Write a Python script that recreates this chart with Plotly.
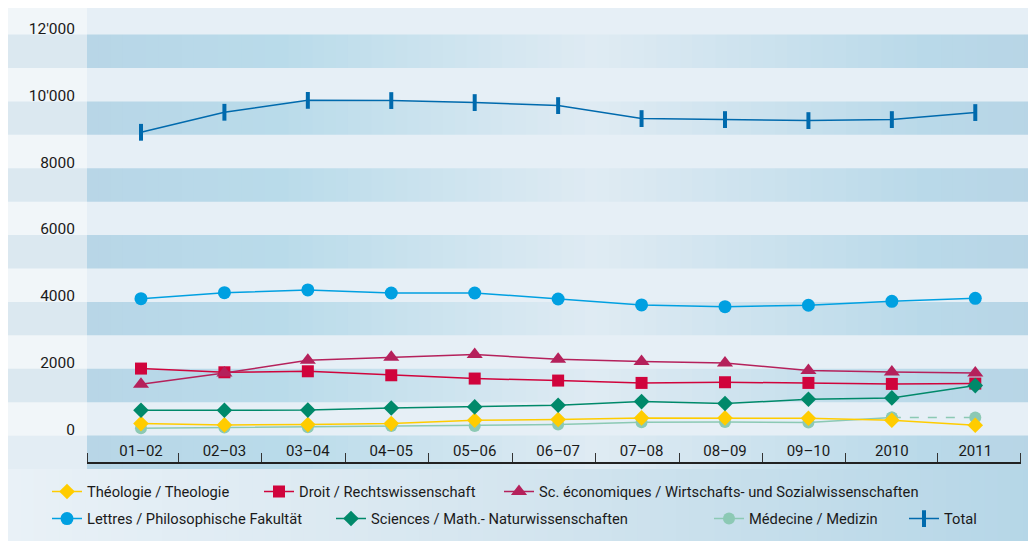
import plotly.graph_objects as go

# Data (students per faculty)
years = ["01–02", "02–03", "03–04", "04–05", "05–06", "06–07",
         "07–08", "08–09", "09–10", "2010", "2011"]

theologie = [359, 319, 329, 359, 458, 479, 529, 529, 518, 458, 309]
droit = [2005, 1894, 1924, 1805, 1706, 1646, 1576, 1596, 1576, 1546, 1556]
eco = [1536, 1875, 2253, 2343, 2424, 2283, 2214, 2175, 1945, 1906, 1875]
lettres = [4096, 4276, 4357, 4267, 4267, 4087, 3908, 3857, 3899, 4018, 4108]
sciences = [758, 758, 762, 827, 858, 908, 1017, 958, 1087, 1127, 1496]
medecine = [219, 239, 249, 289, 289, 329, 399, 409, 389, 539, 539]
total = [9075, 9674, 10030, 10024, 9964, 9874, 9485, 9455, 9425, 9455, 9665]

y_ticks = [0, 2000, 4000, 6000, 8000, 10000, 12000]
y_labels = ["0", "2000", "4000", "6000", "8000", "10'000", "12'000"]

names = {
    "theo": "Théologie / Theologie",
    "droit": "Droit / Rechtswissenschaft",
    "eco": "Sc. économiques / Wirtschafts- und Sozialwissenschaften",
    "lettres": "Lettres / Philosophische Fakultät",
    "sciences": "Sciences / Math.- Naturwissenschaften",
    "med": "Médecine / Medizin",
    "total": "Total",
}

# the page body has an 8px margin, so the figure starts at page (8, 8)
OFF = 8
W, H = 1036 - OFF, 541 - OFF
ML, MR, MT, MB = 87 - OFF, 15, 0, 72
PW = W - ML - MR
PH = H - MT - MB
Y0, Y1 = -1000, 12794


def px_x(px):
    # page x pixel -> paper x
    return (px - 87) / PW


def px_y(py):
    # page y pixel -> paper y
    return (469 - py) / PH


def hex2rgb(h):
    h = h.lstrip("#")
    return [int(h[i:i + 2], 16) for i in (0, 2, 4)]


def grad(stops, px):
    for (a, ca), (b, cb) in zip(stops, stops[1:]):
        if a <= px <= b:
            t = (px - a) / (b - a)
            c1, c2 = hex2rgb(ca), hex2rgb(cb)
            return "rgb(%d,%d,%d)" % tuple(round(u + (v - u) * t) for u, v in zip(c1, c2))
    return stops[-1][1]


band_stops = [(87, "#b8d6e7"), (280, "#b9dbea"), (595, "#dfebf3"),
              (925, "#b9d9e9"), (1036, "#b8d5e6")]
legend_stops = [(8, "#e9f1f7"), (520, "#d4e5ef"), (1036, "#b5d6e7")]

shapes = []
# dark band gradient (plot area)
n = 80
for i in range(n):
    a = 87 + (1036 - 87) * i / n
    b = 87 + (1036 - 87) * (i + 1) / n
    shapes.append(dict(type="rect", xref="paper", yref="y", x0=px_x(a), x1=px_x(b) + 0.001,
                       y0=Y0, y1=Y1, fillcolor=grad(band_stops, (a + b) / 2),
                       line_width=0, layer="below"))
# light bands
for k in range(0, 13000, 2000):
    shapes.append(dict(type="rect", xref="paper", yref="y", x0=0, x1=px_x(1036),
                       y0=k, y1=min(k + 1000, Y1), fillcolor="#e6eff6",
                       line_width=0, layer="below"))
# left label column
shapes.append(dict(type="rect", xref="paper", yref="y", x0=px_x(8), x1=0,
                   y0=0, y1=Y1, fillcolor="#dbe8f0", line_width=0, layer="below"))
shapes.append(dict(type="rect", xref="paper", yref="y", x0=px_x(8), x1=0,
                   y0=Y0, y1=0, fillcolor="#e3edf4", line_width=0, layer="below"))
for k in range(0, 13000, 2000):
    shapes.append(dict(type="rect", xref="paper", yref="y", x0=px_x(8), x1=0,
                       y0=k, y1=min(k + 1000, Y1), fillcolor="#f1f6f9",
                       line_width=0, layer="below"))
# legend background gradient
for i in range(n):
    a = 8 + (1036 - 8) * i / n
    b = 8 + (1036 - 8) * (i + 1) / n
    shapes.append(dict(type="rect", xref="paper", yref="paper", x0=px_x(a), x1=px_x(b) + 0.001,
                       y0=px_y(541), y1=px_y(469), fillcolor=grad(legend_stops, (a + b) / 2),
                       line_width=0, layer="below"))

tick_bounds = [-0.647, 0.45, 1.45, 2.45, 3.45, 4.45, 5.45, 6.45, 7.45, 8.45, 9.55, 10.545]
xs = list(range(len(years)))

fig = go.Figure()


def add(y, name, color, symbol, size, legend, x=None, dash="solid", showlegend=True, mline=None):
    marker = dict(symbol=symbol, size=size, color=color)
    if mline:
        marker["line"] = dict(width=mline, color=color)
    fig.add_trace(go.Scatter(
        x=x if x is not None else xs, y=y, name=name, mode="lines+markers",
        line=dict(color=color, width=1.5, dash=dash), marker=marker,
        legend=legend, showlegend=showlegend, hoverinfo="name+y"))


add(medecine[:10], names["med"], "#8cc9b4", "circle", 12, "legend6", x=xs[:10])
add(medecine[9:], names["med"], "#8cc9b4", "circle", 12, "legend6", x=xs[9:], dash="dash",
    showlegend=False)
add(theologie, names["theo"], "#ffcc00", "diamond", 12, "legend")
add(droit, names["droit"], "#d0043c", "square", 12, "legend2")
add(eco, names["eco"], "#b5215b", "triangle-up", 14, "legend3")
add(sciences, names["sciences"], "#00896a", "diamond", 12, "legend5")
add(lettres, names["lettres"], "#00a0e1", "circle", 13, "legend4")
add(total, names["total"], "#006aad", "line-ns", 12, "legend7", mline=4)

leg_font = dict(family="Roboto", size=14.7, color="#1a1a1a")


def leg(xpx, ypx):
    # container coordinates so the legends do not push the margins
    return dict(x=(xpx - 40 - OFF) / W, y=1 - (ypx - OFF) / H,
                xref="container", yref="container",
                xanchor="left", yanchor="middle",
                orientation="h", bgcolor="rgba(0,0,0,0)", font=leg_font,
                itemwidth=30, borderwidth=0)


fig.update_layout(
    width=W, height=H,
    margin=dict(l=ML, r=MR, t=MT, b=MB, autoexpand=False),
    paper_bgcolor="white", plot_bgcolor="rgba(0,0,0,0)",
    shapes=shapes,
    showlegend=True,
    legend=leg(87, 492), legend2=leg(299, 492), legend3=leg(539, 492),
    legend4=leg(87, 519), legend5=leg(371, 519), legend6=leg(749, 519),
    legend7=leg(944, 519),
    xaxis=dict(
        range=[-0.647, 10.548], tickvals=xs, ticktext=years, side="top",
        anchor="free", position=px_y(463), showline=True, linecolor="#222",
        linewidth=1.5, ticks="", showgrid=False, zeroline=False,
        tickfont=dict(family="Roboto", size=15, color="#1a1a1a"),
        minor=dict(tickmode="array", tickvals=tick_bounds, ticks="outside",
                   ticklen=9, tickwidth=1, tickcolor="#333", showgrid=False),
    ),
    yaxis=dict(
        range=[Y0, Y1], tickvals=y_ticks, ticktext=y_labels, showgrid=False,
        zeroline=False, ticks="", ticklabelstandoff=11, ticklabelshift=-6,
        tickfont=dict(family="Roboto", size=15.5, color="#1a1a1a"),
    ),
)

fig.write_html("out.html")
